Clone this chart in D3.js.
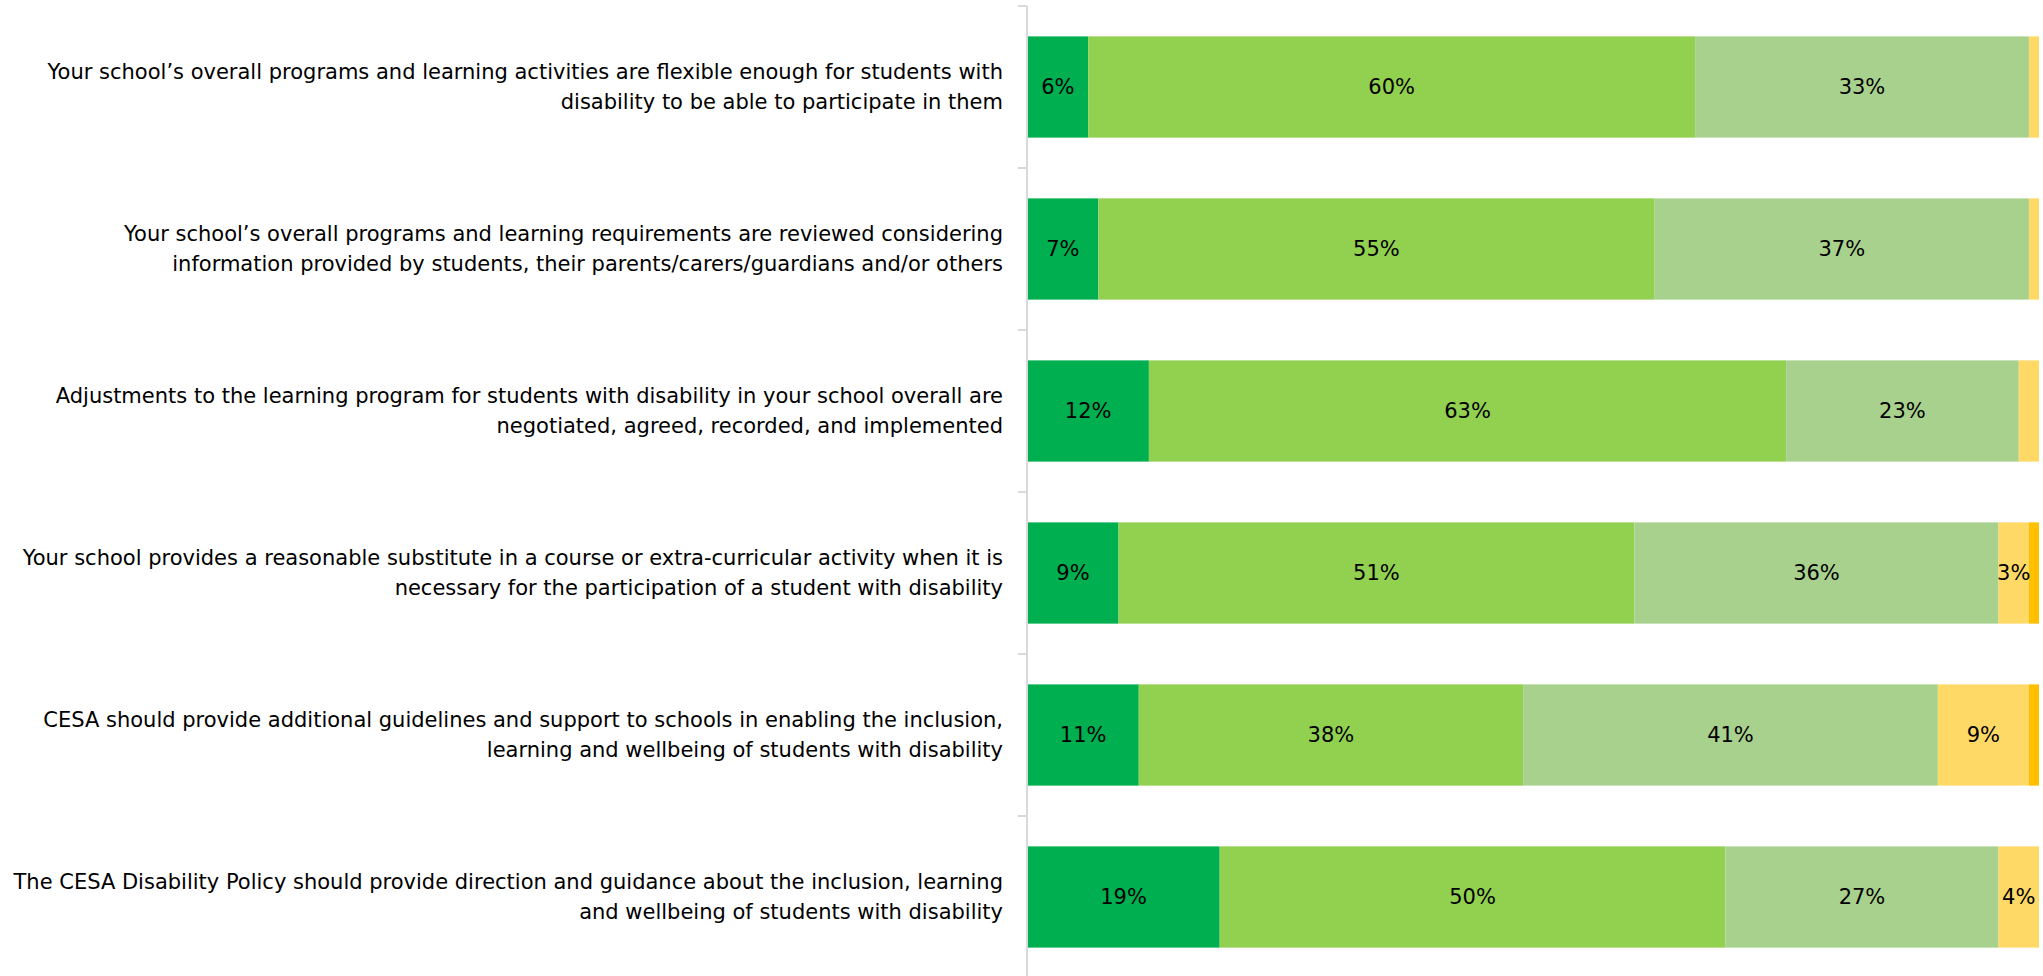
<!DOCTYPE html>
<html>
<head>
<meta charset="utf-8">
<script src="https://cdn.jsdelivr.net/npm/d3@7"></script>
<style>
  html, body { margin: 0; padding: 0; background: #ffffff; }
  svg { display: block; }
  text { font-family: "DejaVu Sans", Verdana, sans-serif; fill: #000; }
</style>
</head>
<body>
<svg id="chart" width="2043" height="976"></svg>
<script>
// Survey statements (each label split over two lines)
const statements = [
  ["Your school\u2019s overall programs and learning activities are flexible enough for students with", "disability to be able to participate in them"],
  ["Your school\u2019s overall programs and learning requirements are reviewed considering", "information provided by students, their parents/carers/guardians and/or others"],
  ["Adjustments to the learning program for students with disability in your school overall are", "negotiated, agreed, recorded, and implemented"],
  ["Your school provides a reasonable substitute in a course or extra-curricular activity when it is", "necessary for the participation of a student with disability"],
  ["CESA should provide additional guidelines and support to schools in enabling the inclusion,", "learning and wellbeing of students with disability"],
  ["The CESA Disability Policy should provide direction and guidance about the inclusion, learning", "and wellbeing of students with disability"]
];

// Response shares (%) per statement, one array per response level
const level1 = [6, 7, 12, 9, 11, 19];
const level2 = [60, 55, 63, 51, 38, 50];
const level3 = [33, 37, 23, 36, 41, 27];
const level4 = [1, 1, 2, 3, 9, 4];
const level5 = [0, 0, 0, 1, 1, 0];

const levelColors = ["#00B050", "#92D050", "#A9D18E", "#FFD966", "#FFC000"];
const levels = [level1, level2, level3, level4, level5];
const minLabelValue = 3;
const fontSize = "21px";

const svg = d3.select("#chart");
const axisX = 1027;

const x = d3.scaleLinear().domain([0, 100]).range([axisX + 0.5, 2039]);
const y = d3.scaleBand()
  .domain(d3.range(statements.length))
  .range([6, 978])
  .paddingInner(0.375)
  .paddingOuter(0.1875);

// Build stacked rows
const rows = statements.map((s, i) => {
  let acc = 0;
  return levels.map((lv, k) => {
    const v = lv[i];
    const seg = { row: i, level: k, value: v, x0: acc, x1: acc + v };
    acc += v;
    return seg;
  }).filter(d => d.value > 0);
});

const segs = rows.flat();

svg.append("g").selectAll("rect")
  .data(segs)
  .join("rect")
  .attr("x", d => x(d.x0))
  .attr("width", d => x(d.x1) - x(d.x0))
  .attr("y", d => y(d.row))
  .attr("height", y.bandwidth())
  .attr("fill", d => levelColors[d.level]);

// Value labels
svg.append("g").selectAll("text")
  .data(segs.filter(d => d.value >= minLabelValue))
  .join("text")
  .attr("x", d => (x(d.x0) + x(d.x1)) / 2)
  .attr("y", d => y(d.row) + y.bandwidth() / 2)
  .attr("text-anchor", "middle")
  .attr("dominant-baseline", "central")
  .style("font-size", fontSize)
  .text(d => d.value + "%");

// Category axis: line with outward ticks at band boundaries
const axisG = svg.append("g");
axisG.append("line")
  .attr("x1", axisX).attr("x2", axisX)
  .attr("y1", 6).attr("y2", 976)
  .attr("stroke", "#D9D9D9").attr("stroke-width", 2);
const step = y.step();
axisG.selectAll("line.tick")
  .data(d3.range(statements.length + 1))
  .join("line")
  .attr("class", "tick")
  .attr("x1", axisX - 9).attr("x2", axisX)
  .attr("y1", i => 6 + i * step).attr("y2", i => 6 + i * step)
  .attr("stroke", "#D9D9D9").attr("stroke-width", 2);

// Category labels, right aligned
const lab = svg.append("g").selectAll("text")
  .data(statements)
  .join("text")
  .attr("text-anchor", "end")
  .style("font-size", fontSize)
  .attr("transform", (d, i) => `translate(1003,${y(i) + y.bandwidth() / 2})`);
lab.selectAll("tspan")
  .data(d => d)
  .join("tspan")
  .attr("x", 0)
  .attr("y", (d, j) => (j - 0.5) * 30)
  .attr("dominant-baseline", "central")
  .text(d => d);
</script>
</body>
</html>
